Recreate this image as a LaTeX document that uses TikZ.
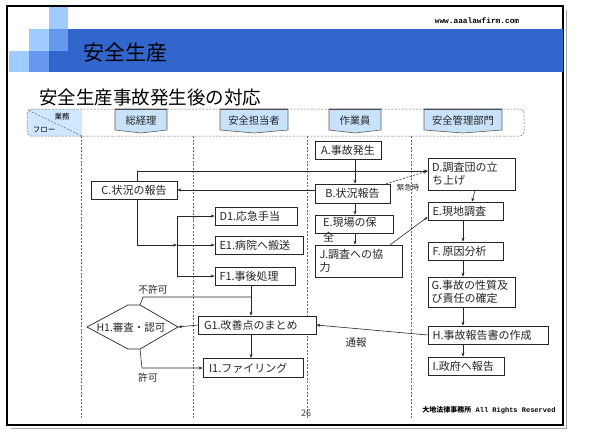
\documentclass[tikz,border=0pt]{standalone}
\usepackage{fontspec}
\setmainfont{Noto Sans CJK JP}
\newfontfamily\monob{Liberation Mono}
\usetikzlibrary{arrows.meta}
\definecolor{lightb}{HTML}{9FCBFF}
\definecolor{midb}{HTML}{6699EE}
\definecolor{darkb}{HTML}{3366CC}
\definecolor{tabblue}{HTML}{C8E2FA}
\definecolor{cornerblue}{HTML}{CFE8FF}
\newcommand\lanetab[4]{%
  \path[tab] (#1,109) -- (#2,109) -- (#2,130) -- ({(#1+#2)/2},133) -- (#1,130) -- cycle;
  \draw[line width=1.3pt, black!70] (#1,109.3) -- (#2,109.3);
  \node[font=\fontsize{10.3}{12}\selectfont, text=black!85] (#4) at ({(#1+#2)/2},120.5) {#3};}
\begin{document}
\begin{tikzpicture}[x=1pt,y=-1pt,
  box/.style={draw=black!85, line width=0.7pt, fill=white, inner sep=0pt,
    font=\fontsize{11}{13.5}\selectfont, align=left, text=black!85},
  arr/.style={-{Stealth[length=4pt,width=3pt]}, line width=0.6pt, draw=black!85},
  ln/.style={line width=0.6pt, draw=black!85},
  lane/.style={draw=black!60, dash pattern=on 2pt off 1.5pt, line width=0.5pt},
  tab/.style={fill=tabblue, draw=black!65, line width=0.6pt},
  lbl/.style={font=\fontsize{9.8}{11}\selectfont, text=black!85}]
\useasboundingbox (0,0) rectangle (592,432);
% slide frame
\draw[black!35, line width=1pt] (11,428) -- (566,428) -- (566,10);
\draw[black, line width=1.1pt] (7,6) rectangle (563,425);
% header decoration
\fill[lightb] (49,7) rectangle (68,29);
\fill[lightb] (29,29) rectangle (49,51);
\fill[lightb] (9,51) rectangle (29,72);
\fill[midb] (49,29) rectangle (68,51);
\fill[midb] (29,51) rectangle (49,72);
\fill[darkb] (68,29) rectangle (562.5,72);
\fill[darkb] (49,51) rectangle (68,72);
\node[font=\fontsize{21}{24}\selectfont] (title) at (125,53) {安全生産};
\node[font=\monob\bfseries\fontsize{7.8}{9}\selectfont] (url) at (477,21) {www.aaalawfirm.com};
\node[font=\fontsize{18.5}{22}\selectfont, anchor=west, inner sep=0pt] (sub) at (39,97) {安全生産事故発生後の対応};
% lane header
\begin{scope}
  \clip (0,100) rectangle (82,140);
  \fill[cornerblue, rounded corners=4pt] (27,109) rectangle (110,136);
\end{scope}
\draw[lane, rounded corners=4pt] (27,109) rectangle (524,136);
\draw[lane] (29,110.5) -- (82,136);
\node[font=\fontsize{7.5}{8}\selectfont] (gyomu) at (62,117) {業務};
\node[font=\fontsize{7.5}{8}\selectfont] (flow) at (44,130) {フロー};
\lanetab{115}{167}{総経理}{t1}
\lanetab{220}{288}{安全担当者}{t2}
\lanetab{329}{381}{作業員}{t3}
\lanetab{424}{502}{安全管理部門}{t4}
% lane lines
\foreach \lx in {81,193,307,411} { \draw[lane] (\lx,136) -- (\lx,418); }
% boxes
\node[box, minimum width=66pt, minimum height=18pt] (A) at (348,150) {A.事故発生};
\node[box, minimum width=75pt, minimum height=19pt] (B) at (352.5,193.5) {B.状況報告};
\node[box, minimum width=78pt, minimum height=18pt] (E) at (354,224) {};
\node[font=\fontsize{11}{15}\selectfont, text=black!85, align=left, anchor=north west, inner sep=0pt] (Etxt) at (323,217.3) {E.現場の保\\全};
\node[box, minimum width=87pt, minimum height=32pt, text width=78pt] (J) at (358.5,261) {J.調査への協\\力};
\node[box, minimum width=87pt, minimum height=32pt, text width=79pt] (D) at (471.5,174) {D.調査団の立\\ち上げ};
\node[box, minimum width=75pt, minimum height=18pt, text width=66pt] (Eg) at (465.5,211) {E.現地調査};
\node[box, minimum width=75pt, minimum height=18pt, text width=66pt] (F) at (465.5,251) {F.\,原因分析};
\node[box, minimum width=87pt, minimum height=30pt, text width=80pt] (G) at (471.5,292) {G.事故の性質及\\び責任の確定};
\node[box, minimum width=120pt, minimum height=18pt, text width=111pt] (H) at (488,335) {H.事故報告書の作成};
\node[box, minimum width=76pt, minimum height=18pt, text width=67pt] (I) at (466,366) {I.政府へ報告};
\node[box, minimum width=86pt, minimum height=18pt] (C) at (134,190) {C.状況の報告};
\node[box, minimum width=82pt, minimum height=18pt, text width=73pt] (D1) at (256,216) {D1.応急手当};
\node[box, minimum width=88pt, minimum height=18pt, text width=79pt] (E1) at (259,245) {E1.病院へ搬送};
\node[box, minimum width=80pt, minimum height=18pt, text width=71pt] (F1) at (255,276) {F1.事後処理};
\node[box, minimum width=118pt, minimum height=18pt, text width=106pt] (G1) at (257,325) {G1.改善点のまとめ};
\node[box, minimum width=100pt, minimum height=19pt, text width=88pt] (I1) at (253,368) {I1.ファイリング};
% H1 hexagon
\coordinate (hL) at (87,327);
\coordinate (hTL) at (128,305);
\coordinate (hTR) at (140,305);
\coordinate (hR) at (178,327);
\coordinate (hBR) at (140,349);
\coordinate (hBL) at (128,349);
\draw[line width=0.7pt, draw=black!85, fill=white] (hL) -- (hTL) -- (hTR) -- (hR) -- (hBR) -- (hBL) -- cycle;
\node[font=\fontsize{10.5}{12}\selectfont, text=black!85] (H1) at (131,327) {H1.審査・認可};
% coordinates
\coordinate (xa) at (355,0);
\coordinate (xr) at (463,0);
\coordinate (xg) at (251,0);
\coordinate (cd) at (137,171);
\coordinate (jm) at (177,245);
\coordinate (ng1) at (143,297);
\coordinate (ng2) at (251,297);
\coordinate (ok1) at (142,368);
% worker lane
\draw[arr] (A.south -| xa) -- (B.north -| xa);
\draw[arr] (B.south -| xa) -- (E.north -| xa);
\draw[arr] (E.south -| xa) -- (J.north -| xa);
\draw[arr] (B.west |- C.east) -- (C.east);
\draw[arr] ([xshift=-12pt]J.north east) -- ([yshift=-6pt]Eg.west);
\draw[arr, dash pattern=on 2pt off 1.5pt] ([xshift=-4pt]B.north east) -- (D.west |- cd);
\node[font=\fontsize{7.5}{8}\selectfont, text=black!85] (kin) at (408,188) {緊急時};
% president lane
\draw[arr] (C.north -| cd) |- (D.west |- cd);
\draw[arr] (C.south -| cd) |- (jm);
\draw[ln] (D1.west -| jm) -- (F1.west -| jm);
\draw[arr] (D1.west -| jm) -- (D1.west);
\draw[arr] (jm) -- (E1.west);
\draw[arr] (F1.west -| jm) -- (F1.west);
% safety lane
\draw[arr] (F1.south -| xg) -- (G1.north -| xg);
\draw[arr] (G1.south -| xg) -- (I1.north -| xg);
\draw[arr] (G1.west) -- (hR);
\draw[ln] (hTR) -- (ng1) -- (ng2);
\draw[arr] (hBR) -- (ok1) -- (I1.west);
\node[lbl] (fk) at (153,290) {不許可};
\node[lbl] (kk) at (148,378) {許可};
% management lane
\draw[arr] ([xshift=3.5pt]D.south) -- ([xshift=6.5pt]Eg.north);
\draw[arr] (Eg.south -| xr) -- (F.north -| xr);
\draw[arr] (F.south -| xr) -- (G.north -| xr);
\draw[arr] (G.south -| xr) -- (H.north -| xr);
\draw[arr] (H.south -| xr) -- (I.north -| xr);
\draw[arr] (H.west) -- (G1.east);
\node[font=\fontsize{10.5}{12}\selectfont, text=black!85] (tsuho) at (356,343) {通報};
% footer
\node[font=\fontsize{9}{10}\selectfont, text=black!75] (pg) at (306,413) {26};
\node[font=\fontsize{7}{8}\selectfont] (foot) at (489,410) {\bfseries 大地法律事務所{\monob\bfseries\ All Rights Reserved}};
\end{tikzpicture}
\end{document}
